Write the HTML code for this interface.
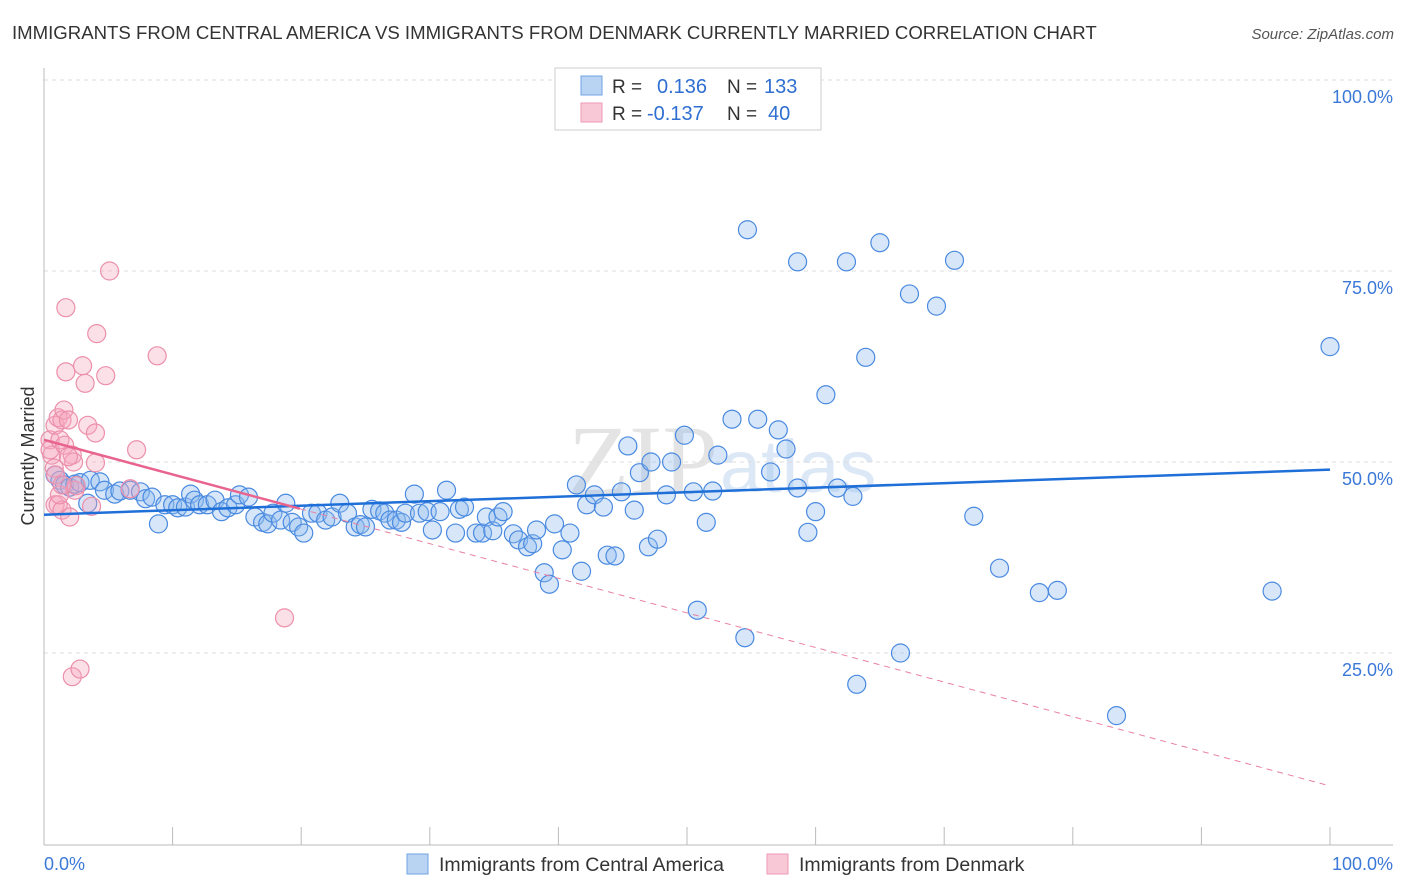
<!DOCTYPE html>
<html><head><meta charset="utf-8"><style>
body{margin:0;background:#fff;font-family:"Liberation Sans",sans-serif;}
#wrap{position:relative;width:1406px;height:892px;overflow:hidden;}
</style></head><body>
<div id="wrap">
<svg id="svg" width="1406" height="892" xmlns="http://www.w3.org/2000/svg">
<text x="12" y="39" font-size="18.6" fill="#333">IMMIGRANTS FROM CENTRAL AMERICA VS IMMIGRANTS FROM DENMARK CURRENTLY MARRIED CORRELATION CHART</text>
<text x="1394" y="39" font-size="15" fill="#555" font-style="italic" text-anchor="end">Source: ZipAtlas.com</text>
<text x="0" y="0" transform="translate(34,456) rotate(-90)" font-size="18" fill="#333" text-anchor="middle">Currently Married</text>
<text x="718" y="494" font-size="100" fill="#e4e4e4" font-family="Liberation Serif,serif" text-anchor="end">ZIP</text>
<text x="720" y="492" font-size="74" fill="#dde8f6">atlas</text>
<g id="grid"></g><g id="axes"></g><g id="pts"></g><g id="trend"></g>
<g>
<rect x="555" y="68" width="266" height="62" fill="#fff" stroke="#ccc"/>
<rect x="581" y="76" width="21" height="19" fill="#b9d3f3" stroke="#6fa3e6"/>
<rect x="581" y="103" width="21" height="19" fill="#f9c8d6" stroke="#ef9ab5"/>
<text x="612" y="93" font-size="19" fill="#333">R =</text><text x="657" y="93" font-size="20" fill="#2f6fd1">0.136</text>
<text x="727" y="93" font-size="19" fill="#333">N =</text><text x="764" y="93" font-size="20" fill="#2f6fd1">133</text>
<text x="612" y="120" font-size="19" fill="#333">R =</text><text x="647" y="120" font-size="20" fill="#2f6fd1">-0.137</text>
<text x="727" y="120" font-size="19" fill="#333">N =</text><text x="768" y="120" font-size="20" fill="#2f6fd1">40</text>
</g>
<g>
<rect x="407" y="854" width="21" height="20" fill="#b9d3f3" stroke="#6fa3e6"/>
<text x="439" y="871" font-size="19.5" fill="#333">Immigrants from Central America</text>
<rect x="767" y="854" width="21" height="20" fill="#f9c8d6" stroke="#ef9ab5"/>
<text x="799" y="871" font-size="19.5" fill="#333">Immigrants from Denmark</text>
</g>
</svg>
</div>
<script>
const blueX=[0.86,1.24,1.6,2.0,2.4,2.8,3.6,4.35,3.4,4.7,5.5,5.9,6.7,7.5,7.9,8.4,8.9,9.4,10.0,10.4,11.0,11.4,11.7,12.1,12.7,13.3,13.8,14.3,14.9,15.2,15.9,16.4,17.0,17.4,17.8,18.4,18.8,19.3,19.8,20.2,20.8,21.3,21.9,22.4,23.0,23.6,24.2,24.6,25.0,25.5,26.1,26.5,26.9,27.4,27.8,28.1,28.8,29.2,29.8,30.2,30.8,31.3,32.0,32.3,32.7,33.6,34.1,34.4,34.9,35.3,35.7,36.5,36.9,37.6,38.0,38.3,38.9,39.3,39.7,40.3,40.9,41.4,41.8,42.2,42.8,43.5,43.8,44.4,44.9,45.4,45.9,46.3,47.0,47.2,47.7,48.4,48.8,49.8,50.5,50.8,51.5,52.0,52.4,53.5,54.5,54.7,55.5,56.5,57.1,57.7,58.6,58.6,59.4,60.0,60.8,61.7,62.4,62.9,63.2,63.9,65.0,66.6,67.3,69.4,70.8,72.3,74.3,77.4,78.8,83.4,95.5,100];
const blueY=[48.3,47.6,47.0,46.7,47.1,47.3,47.6,47.4,44.6,46.3,45.8,46.2,46.3,46.1,45.2,45.4,41.9,44.4,44.4,44.0,44.1,45.8,45.0,44.4,44.4,45.0,43.5,44.0,44.4,45.7,45.4,42.8,42.1,41.9,43.3,42.4,44.6,42.1,41.5,40.7,43.3,43.3,42.4,42.8,44.6,43.3,41.5,41.8,41.5,43.8,43.6,43.3,42.4,42.4,42.1,43.3,45.8,43.3,43.5,41.1,43.5,46.3,40.7,43.8,44.1,40.7,40.7,42.8,41.0,42.8,43.5,40.6,39.8,38.9,39.3,41.1,35.5,34.0,41.9,38.5,40.7,47.0,35.7,44.4,45.7,44.1,37.8,37.7,46.1,52.1,43.7,48.6,38.9,50.0,39.9,45.7,50.0,53.5,46.1,30.6,42.1,46.2,50.9,55.6,27.0,80.4,55.6,48.7,54.2,51.7,76.2,46.6,40.8,43.5,58.8,46.6,76.2,45.5,20.9,63.7,78.7,25.0,72.0,70.4,76.4,42.9,36.1,32.9,33.2,16.8,33.1,65.1];
const pinkX=[0.47,0.6,0.8,0.86,1.1,0.47,0.86,1.1,1.4,1.55,1.24,1.6,1.9,1.4,2.0,1.7,1.7,2.2,2.3,2.4,3.0,3.2,3.4,4.0,4.0,4.1,4.8,5.1,7.2,8.8,3.7,6.7,2.5,18.7,2.2,2.8,1.9,0.9,1.2,1.4];
const pinkY=[52.9,50.9,49.2,44.4,44.4,51.6,54.8,55.8,55.5,56.8,52.9,52.2,55.5,43.7,42.8,61.8,70.2,50.9,50.0,46.3,62.6,60.3,54.8,53.8,49.9,66.8,61.3,75.0,51.6,63.9,44.2,46.5,46.9,29.6,21.9,22.9,50.7,48.3,45.7,47.0];
const blueTrend=[43.1,49.0];
const pinkTrend=[52.9,7.6];
const pinkSolidEnd=19.9;
const yTicks=[25,50,75,100];
const yTickLabels=["25.0%","50.0%","75.0%","100.0%"];
const xTicks=[10,20,30,40,50,60,70,80,90,100];

const NS="http://www.w3.org/2000/svg";
const X0=44,X1=1330,Y0=844,Y100=80;
const sx=v=>X0+(X1-X0)*v/100;
const sy=v=>Y0-(Y0-Y100)*v/100;
function mk(tag,attrs,parent){const e=document.createElementNS(NS,tag);for(const k in attrs)e.setAttribute(k,attrs[k]);parent.appendChild(e);return e;}
const grid=document.getElementById('grid'),axes=document.getElementById('axes'),pts=document.getElementById('pts'),tr=document.getElementById('trend');
yTicks.forEach((t,i)=>{
  const l=mk('line',{x1:X0,x2:1393,y1:sy(t),y2:sy(t),stroke:'#ddd','stroke-dasharray':'4,4'},grid);
  
  
  const tx=mk('text',{x:1393,y:sy(t)+23,'font-size':18,fill:'#3b78d8','text-anchor':'end'},axes);
  tx.textContent=yTickLabels[i];
  
  
});
const ya=mk('line',{x1:X0,x2:X0,y1:68,y2:845,stroke:'#bbb'},axes);


const xa=mk('line',{x1:X0,x2:1393,y1:845,y2:845,stroke:'#bbb'},axes);


xTicks.forEach(t=>{
  const l=mk('line',{x1:sx(t),x2:sx(t),y1:827,y2:845,stroke:'#bbb'},axes);
  
  
});
const xl0=mk('text',{x:44,y:870,'font-size':18,fill:'#3b78d8'},axes);xl0.textContent='0.0%';


const xl1=mk('text',{x:1393,y:870,'font-size':18,fill:'#3b78d8','text-anchor':'end'},axes);xl1.textContent='100.0%';


blueX.forEach((x,i)=>{
  const c=mk('circle',{cx:sx(x),cy:sy(blueY[i]),r:9,fill:'rgba(140,185,238,0.35)',stroke:'#4a8ae0','stroke-width':1.2},pts);
  
  
});
pinkX.forEach((x,i)=>{
  const c=mk('circle',{cx:sx(x),cy:sy(pinkY[i]),r:9,fill:'rgba(246,165,190,0.35)',stroke:'#ec8fab','stroke-width':1.2},pts);
  
  
});
const bl=mk('line',{x1:sx(0),y1:sy(blueTrend[0]),x2:sx(100),y2:sy(blueTrend[1]),stroke:'#1f6fd8','stroke-width':2.5},tr);


const pAt=x=>pinkTrend[0]+(pinkTrend[1]-pinkTrend[0])*x/100;
const ps=mk('line',{x1:sx(0),y1:sy(pAt(0)),x2:sx(pinkSolidEnd),y2:sy(pAt(pinkSolidEnd)),stroke:'#e8648e','stroke-width':2.5},tr);


const pd=mk('line',{x1:sx(pinkSolidEnd),y1:sy(pAt(pinkSolidEnd)),x2:sx(100),y2:sy(pAt(100)),stroke:'#e8819f','stroke-width':1,'stroke-dasharray':'6,5'},tr);


</script>
</body></html>
